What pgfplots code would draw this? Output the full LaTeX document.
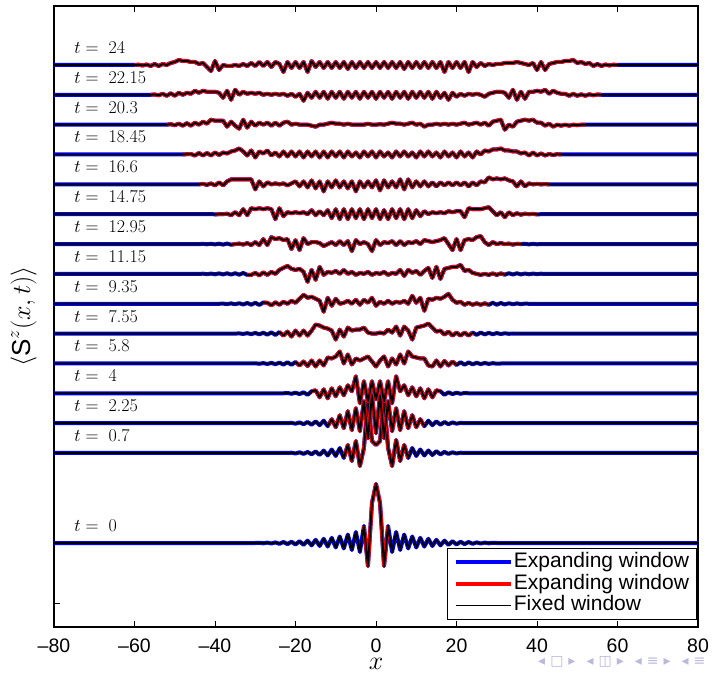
\RequirePackage{fix-cm}
\documentclass[border=0pt]{standalone}
\usepackage{fontspec}
\newfontfamily\hv{Liberation Sans}
\newfontfamily\dv{DejaVu Sans}
\usepackage{pgfplots}
\usepackage{pgfplotstable}
\pgfplotsset{compat=1.18}
\definecolor{navc}{RGB}{185,185,220}

\pgfplotstableread[row sep=\\]{x d\\ -80 0\\ -30 0\\ -29 0.2\\ -28 -0.3\\ -27 0.4\\ -26 -0.5\\ -25 0.6\\ -24 -0.8\\ -23 1\\ -22 -1.1\\ -21 1.3\\ -20 -1.5\\ -19 1.8\\ -18 -1.9\\ -17 2.4\\ -16 -2.4\\ -15 3.2\\ -14 -3\\ -13 4.2\\ -12 -3.6\\ -11 5.2\\ -10 -4.5\\ -9 6.5\\ -8 -5.5\\ -7 8.5\\ -6 -7\\ -5 11\\ -4 -9\\ -3 17\\ -2 -23\\ -1 40\\ 0 59\\ 1 40\\ 2 -23\\ 3 17\\ 4 -9\\ 5 11\\ 6 -7\\ 7 8.5\\ 8 -5.5\\ 9 6.5\\ 10 -4.5\\ 11 5.2\\ 12 -3.6\\ 13 4.2\\ 14 -3\\ 15 3.2\\ 16 -2.4\\ 17 2.4\\ 18 -1.9\\ 19 1.8\\ 20 -1.5\\ 21 1.3\\ 22 -1.1\\ 23 1\\ 24 -0.8\\ 25 0.6\\ 26 -0.5\\ 27 0.4\\ 28 -0.3\\ 29 0.2\\ 30 0\\ 80 0\\}\tZ

\pgfplotstableread[row sep=\\]{x d\\ -80 0\\ -22 0\\ -21 0.3\\ -20 -0.5\\ -19 0.7\\ -18 -0.9\\ -17 1\\ -16 -1.3\\ -15 1.6\\ -14 -2\\ -13 2.4\\ -12 -2.5\\ -11 3.5\\ -10 -3\\ -9 5\\ -8 -5\\ -7 8\\ -6 -8\\ -5 12\\ -4 -13\\ -3 5\\ -2 55\\ -1 12\\ 0 8\\ 1 12\\ 2 55\\ 3 5\\ 4 -13\\ 5 13\\ 6 -8\\ 7 8\\ 8 -5\\ 9 5\\ 10 -3\\ 11 3.5\\ 12 -2.5\\ 13 2.5\\ 14 -2\\ 15 1.8\\ 16 -1.4\\ 17 1.1\\ 18 -0.9\\ 19 0.7\\ 20 -0.5\\ 21 0.3\\ 22 0\\ 80 0\\}\tA

\pgfplotstableread[row sep=\\]{x d\\ -80 0\\ -22 0\\ -21 0.3\\ -20 -0.5\\ -19 0.8\\ -18 -1\\ -17 1.2\\ -16 -1.5\\ -15 1.8\\ -14 -2\\ -13 2.5\\ -12 -3\\ -11 4\\ -10 -4\\ -9 8\\ -8 -5\\ -7 12\\ -6 -7\\ -5 15\\ -4 -8\\ -3 22\\ -2 -15\\ -1 28\\ 0 -10\\ 1 28\\ 2 -15\\ 3 22\\ 4 -8\\ 5 15\\ 6 -7\\ 7 12\\ 8 -5\\ 9 8\\ 10 -4\\ 11 4\\ 12 -3\\ 13 2.5\\ 14 -2\\ 15 1.8\\ 16 -1.5\\ 17 1.2\\ 18 -1\\ 19 0.8\\ 20 -0.5\\ 21 0.3\\ 22 0\\ 80 0\\}\tB

\pgfplotstableread[row sep=\\]{x d\\ -80 0\\ -23 0\\ -22 0.3\\ -21 -0.5\\ -20 0.6\\ -19 -0.8\\ -18 1\\ -17 -1.5\\ -16 2\\ -15 3\\ -14 -4\\ -13 4\\ -12 -5\\ -11 5\\ -10 -3\\ -9 6\\ -8 -2\\ -7 8\\ -6 2\\ -5 17\\ -4 -10\\ -3 12\\ -2 -8\\ -1 12\\ 0 -6\\ 1 12\\ 2 -8\\ 3 12\\ 4 -10\\ 5 17\\ 6 2\\ 7 8\\ 8 -2\\ 9 6\\ 10 -3\\ 11 5\\ 12 -5\\ 13 4\\ 14 -4\\ 15 3\\ 16 2\\ 17 -1.5\\ 18 1\\ 19 -0.8\\ 20 0.6\\ 21 -0.5\\ 22 0.3\\ 23 0\\ 80 0\\}\tC

\pgfplotstableread[row sep=\\]{x d\\ -80 0\\ -31 0\\ -30 0.2\\ -29 -0.3\\ -28 0.4\\ -27 -0.5\\ -26 0.6\\ -25 -0.7\\ -24 0.8\\ -23 -1\\ -22 1.2\\ -21 -1.3\\ -20 1.5\\ -19 -2\\ -18 2\\ -17 -2.5\\ -16 3\\ -15 -3\\ -14 3\\ -13 -2\\ -12 6\\ -11 5\\ -10 7\\ -9 12\\ -8 0\\ -7 9\\ -6 -1\\ -5 5\\ -4 3\\ -3 5\\ -2 7\\ -1 2\\ 0 -3\\ 1 3\\ 2 7\\ 3 -3\\ 4 5\\ 5 -1\\ 6 9\\ 7 0\\ 8 12\\ 9 7\\ 10 6\\ 11 5\\ 12 5\\ 13 -2\\ 14 -3\\ 15 3\\ 16 -3\\ 17 2.5\\ 18 -2\\ 19 2\\ 20 -1.5\\ 21 1.3\\ 22 -1.2\\ 23 1\\ 24 -0.8\\ 25 0.7\\ 26 -0.6\\ 27 0.5\\ 28 -0.4\\ 29 0.3\\ 30 -0.2\\ 31 0\\ 80 0\\}\tD

\pgfplotstableread[row sep=\\]{x d\\ -80 0\\ -35 0\\ -34 0.2\\ -33 -0.3\\ -32 0.4\\ -31 -0.5\\ -30 0.6\\ -29 -0.7\\ -28 0.8\\ -27 -1\\ -26 1.2\\ -25 -1.3\\ -24 1.5\\ -23 -2\\ -22 2\\ -21 -3\\ -20 3\\ -19 -2\\ -18 3\\ -17 -2\\ -16 3\\ -15 9\\ -14 8\\ -13 6\\ -12 5\\ -11 3\\ -10 -6\\ -9 4\\ -8 -3\\ -7 6\\ -6 3\\ -5 4\\ -4 4\\ -3 6\\ -2 1\\ -1 0\\ 0 0\\ 1 1\\ 2 0\\ 3 4\\ 4 1\\ 5 7\\ 6 -2\\ 7 7\\ 8 3\\ 9 -6\\ 10 6\\ 11 7\\ 12 8\\ 13 10\\ 14 6\\ 15 2\\ 16 3\\ 17 -1\\ 18 2\\ 19 -2\\ 20 1\\ 21 -2\\ 22 1\\ 23 -2\\ 24 1\\ 25 -1.2\\ 26 1\\ 27 -0.8\\ 28 0.7\\ 29 -0.6\\ 30 0.5\\ 31 -0.4\\ 32 0.3\\ 33 -0.2\\ 34 0.1\\ 35 0\\ 80 0\\}\tE

\pgfplotstableread[row sep=\\]{x d\\ -80 0\\ -39 0\\ -38 0.2\\ -37 -0.3\\ -36 0.4\\ -35 -0.5\\ -34 0.6\\ -33 -0.7\\ -32 0.8\\ -31 -0.9\\ -30 1\\ -29 -1.2\\ -28 1.3\\ -27 1\\ -26 -1.5\\ -25 1.5\\ -24 -1\\ -23 2\\ -22 0\\ -21 3\\ -20 1\\ -19 5\\ -18 9\\ -17 6\\ -16 7\\ -15 5\\ -14 3\\ -13 -8\\ -12 6\\ -11 -2\\ -10 5\\ -9 0\\ -8 1\\ -7 3\\ -6 0\\ -5 4\\ -4 -1\\ -3 4\\ -2 1\\ -1 6\\ 0 -2\\ 1 2\\ 2 0\\ 3 3\\ 4 0\\ 5 2\\ 6 1\\ 7 3\\ 8 0\\ 9 8\\ 10 1\\ 11 6\\ 12 -7\\ 13 5\\ 14 4\\ 15 6\\ 16 5\\ 17 7\\ 18 10\\ 19 4\\ 20 1\\ 21 2\\ 22 -1\\ 23 1\\ 24 -1\\ 25 0.5\\ 26 -1\\ 27 0.5\\ 28 -1\\ 29 1\\ 30 -0.9\\ 31 0.8\\ 32 -0.7\\ 33 0.6\\ 34 -0.5\\ 35 0.4\\ 36 -0.3\\ 37 0.2\\ 38 0\\ 80 0\\}\tF

\pgfplotstableread[row sep=\\]{x d\\ -80 0\\ -44 0\\ -43 0.2\\ -42 -0.3\\ -41 0.3\\ -40 -0.4\\ -39 0.5\\ -38 -0.5\\ -37 0.6\\ -36 -0.7\\ -35 0.7\\ -34 -0.8\\ -33 0.9\\ -32 -1\\ -31 -1\\ -30 1\\ -29 -1.5\\ -28 1.5\\ -27 -1\\ -26 2\\ -25 0\\ -24 4\\ -23 6\\ -22 8\\ -21 5\\ -20 4\\ -19 5\\ -18 2\\ -17 -8\\ -16 4\\ -15 -6\\ -14 7\\ -13 -1\\ -12 2\\ -11 1\\ -10 3\\ -9 0\\ -8 4\\ -7 0\\ -6 2\\ -5 -1\\ -4 1\\ -3 0\\ -2 2\\ -1 -1\\ 0 1\\ 1 0\\ 2 2\\ 3 -1\\ 4 1\\ 5 0\\ 6 4\\ 7 -2\\ 8 4\\ 9 1\\ 10 3\\ 11 -1\\ 12 3\\ 13 6\\ 14 -4\\ 15 7\\ 16 -5\\ 17 5\\ 18 6\\ 19 7\\ 20 7\\ 21 9\\ 22 3\\ 23 4\\ 24 1\\ 25 0\\ 26 -1\\ 27 0\\ 28 -1\\ 29 0.5\\ 30 -1\\ 31 0.5\\ 32 -0.8\\ 33 0.7\\ 34 -0.6\\ 35 0.6\\ 36 -0.5\\ 37 0.4\\ 38 -0.4\\ 39 0.3\\ 40 -0.2\\ 41 0.2\\ 42 -0.1\\ 43 0\\ 80 0\\}\tG

\pgfplotstableread[row sep=\\]{x d\\ -80 0\\ -44 0\\ -43 0.2\\ -42 -0.2\\ -41 0.3\\ -40 -0.3\\ -39 0.4\\ -38 -0.5\\ -37 0.5\\ -36 -0.6\\ -35 0\\ -34 0.5\\ -33 -0.5\\ -32 1\\ -31 -1\\ -30 2\\ -29 -1\\ -28 5\\ -27 -1\\ -26 7\\ -25 5\\ -24 6\\ -23 4\\ -22 5\\ -21 -5\\ -20 4\\ -19 -6\\ -18 6\\ -17 0\\ -16 2\\ -15 2\\ -14 1\\ -13 -2\\ -12 0\\ -11 2\\ -10 -1\\ -9 3\\ -8 -1\\ -7 3\\ -6 -7\\ -5 4\\ -4 0\\ -3 2\\ -2 0\\ -1 -7\\ 0 4\\ 1 -1\\ 2 2\\ 3 1\\ 4 3\\ 5 -1\\ 6 3\\ 7 -1\\ 8 2\\ 9 1\\ 10 3\\ 11 0\\ 12 4\\ 13 3\\ 14 2\\ 15 3\\ 16 4\\ 17 6\\ 18 0\\ 19 -6\\ 20 5\\ 21 -6\\ 22 4\\ 23 5\\ 24 4\\ 25 7\\ 26 8\\ 27 2\\ 28 -1\\ 29 2\\ 30 0\\ 31 1\\ 32 0\\ 33 0.5\\ 34 -0.5\\ 35 0.3\\ 36 0\\ 37 0.3\\ 38 -0.3\\ 39 0.2\\ 40 -0.2\\ 41 0\\ 80 0\\}\tH

\pgfplotstableread[row sep=\\]{x d\\ -80 0\\ -42 0\\ -41 0.2\\ -40 -0.2\\ -39 0\\ -38 0\\ -37 0.5\\ -36 -1\\ -35 2\\ -34 -1\\ -33 5\\ -32 -1\\ -31 6\\ -30 5\\ -29 6\\ -28 5\\ -27 6\\ -26 5\\ -25 -5\\ -24 6\\ -23 -2\\ -22 2\\ -21 1\\ -20 2\\ -19 1\\ -18 2\\ -17 0\\ -16 4\\ -15 -1\\ -14 3\\ -13 -1\\ -12 4\\ -11 -4\\ -10 5\\ -9 -5\\ -8 5\\ -7 -5\\ -6 5\\ -5 -4\\ -4 5\\ -3 -5\\ -2 5\\ -1 -4\\ 0 5\\ 1 -5\\ 2 4\\ 3 -5\\ 4 5\\ 5 -4\\ 6 5\\ 7 -5\\ 8 5\\ 9 -4\\ 10 4\\ 11 -2\\ 12 3\\ 13 0\\ 14 2\\ 15 1\\ 16 2\\ 17 1\\ 18 3\\ 19 2\\ 20 3\\ 21 3\\ 22 -3\\ 23 6\\ 24 5\\ 25 5\\ 26 5\\ 27 6\\ 28 7\\ 29 3\\ 30 -1\\ 31 2\\ 32 -3\\ 33 2\\ 34 -1\\ 35 1\\ 36 -0.5\\ 37 0.5\\ 38 0\\ 39 0.3\\ 40 -0.2\\ 41 0\\ 80 0\\}\tI

\pgfplotstableread[row sep=\\]{x d\\ -80 0\\ -44 0\\ -43 0.5\\ -42 -0.5\\ -41 1\\ -40 -1\\ -39 2\\ -38 -1\\ -37 3\\ -36 5\\ -35 5\\ -34 5\\ -33 5\\ -32 5\\ -31 5\\ -30 -5\\ -29 3\\ -28 -2\\ -27 2\\ -26 0\\ -25 1\\ -24 0\\ -23 1\\ -22 -1\\ -21 1\\ -20 3\\ -19 -2\\ -18 3\\ -17 -3\\ -16 4\\ -15 -4\\ -14 3\\ -13 -7\\ -12 3\\ -11 -3\\ -10 4\\ -9 -3\\ -8 3\\ -7 -4\\ -6 3\\ -5 -7\\ -4 3\\ -3 -3\\ -2 3\\ -1 -3\\ 0 4\\ 1 -6\\ 2 4\\ 3 -3\\ 4 3\\ 5 -3\\ 6 5\\ 7 -5\\ 8 5\\ 9 -3\\ 10 3\\ 11 -2\\ 12 3\\ 13 -2\\ 14 2\\ 15 -2\\ 16 2\\ 17 -1\\ 18 2\\ 19 -1\\ 20 2\\ 21 -1\\ 22 2\\ 23 -2\\ 24 2\\ 25 -1\\ 26 3\\ 27 2\\ 28 7\\ 29 5\\ 30 6\\ 31 5\\ 32 6\\ 33 4\\ 34 3\\ 35 -2\\ 36 3\\ 37 -2\\ 38 1\\ 39 0\\ 40 0.5\\ 41 0\\ 42 0.3\\ 43 0\\ 80 0\\}\tJ

\pgfplotstableread[row sep=\\]{x d\\ -80 0\\ -48 0\\ -47 0.3\\ -46 0.5\\ -45 -1\\ -44 1.5\\ -43 -1\\ -42 1.5\\ -41 -1\\ -40 2\\ -39 -0.5\\ -38 2\\ -37 1\\ -36 3\\ -35 4\\ -34 6\\ -33 3\\ -32 -1\\ -31 4\\ -30 -3\\ -29 3\\ -28 1\\ -27 4\\ -26 -1\\ -25 2\\ -24 -2\\ -23 3\\ -22 -2\\ -21 3\\ -20 -2\\ -19 3\\ -18 -3\\ -17 3\\ -16 -2\\ -15 3\\ -14 -3\\ -13 3\\ -12 -3\\ -11 3\\ -10 -2\\ -9 3\\ -8 -3\\ -7 3\\ -6 -2\\ -5 2\\ -4 -3\\ -3 3\\ -2 -2\\ -1 3\\ 0 -3\\ 1 3\\ 2 -2\\ 3 2\\ 4 -3\\ 5 3\\ 6 -2\\ 7 3\\ 8 -2\\ 9 2\\ 10 -3\\ 11 3\\ 12 -2\\ 13 3\\ 14 -2\\ 15 2\\ 16 -3\\ 17 3\\ 18 -2\\ 19 2\\ 20 -3\\ 21 3\\ 22 -2\\ 23 2\\ 24 -3\\ 25 3\\ 26 0\\ 27 4\\ 28 3\\ 29 5\\ 30 5\\ 31 6\\ 32 4\\ 33 4\\ 34 3\\ 35 3\\ 36 1\\ 37 2\\ 38 -1\\ 39 2\\ 40 -1\\ 41 1\\ 42 -1\\ 43 0.5\\ 44 -0.5\\ 45 0.3\\ 46 0\\ 80 0\\}\tK

\pgfplotstableread[row sep=\\]{x d\\ -80 0\\ -52 0\\ -51 0.5\\ -50 -0.5\\ -49 1\\ -48 -1\\ -47 1.5\\ -46 -1\\ -45 2\\ -44 0\\ -43 3\\ -42 1\\ -41 5\\ -40 4\\ -39 4\\ -38 4\\ -37 -2\\ -36 3\\ -35 -1\\ -34 -4\\ -33 5\\ -32 -3\\ -31 3\\ -30 -1\\ -29 2\\ -28 0\\ -27 2\\ -26 -1\\ -25 2\\ -24 -1\\ -23 2\\ -22 3\\ -21 0\\ -20 1\\ -19 0\\ -18 0\\ -17 0\\ -16 -1\\ -15 -2\\ -14 0\\ -13 0\\ -12 1\\ -11 2\\ -10 1\\ -9 1\\ -8 0\\ -7 1\\ -6 0\\ -5 0\\ -4 0\\ -3 0\\ -2 1\\ -1 0\\ 0 0\\ 1 0.5\\ 2 0\\ 3 1\\ 4 2\\ 5 1\\ 6 1\\ 7 0\\ 8 1\\ 9 2\\ 10 0\\ 11 1\\ 12 -2\\ 13 0\\ 14 0\\ 15 1\\ 16 0\\ 17 1\\ 18 0\\ 19 1\\ 20 0\\ 21 1\\ 22 2\\ 23 0\\ 24 1\\ 25 2\\ 26 0\\ 27 2\\ 28 -1\\ 29 3\\ 30 4\\ 31 5\\ 32 -5\\ 33 0\\ 34 -2\\ 35 3\\ 36 4\\ 37 5\\ 38 4\\ 39 5\\ 40 2\\ 41 2\\ 42 -1\\ 43 1\\ 44 -2\\ 45 0\\ 46 -1\\ 47 0\\ 48 -1\\ 49 0\\ 50 -0.5\\ 51 0\\ 52 0\\ 80 0\\}\tL

\pgfplotstableread[row sep=\\]{x d\\ -80 0\\ -56 0\\ -55 0.3\\ -54 -0.5\\ -53 1\\ -52 -1\\ -51 1.5\\ -50 -1\\ -49 2\\ -48 0\\ -47 2\\ -46 1\\ -45 4\\ -44 2\\ -43 4\\ -42 3\\ -41 3\\ -40 3\\ -39 2\\ -38 -3\\ -37 4\\ -36 -5\\ -35 5\\ -34 0\\ -33 3\\ -32 1\\ -31 2\\ -30 1\\ -29 2\\ -28 0\\ -27 1\\ -26 0\\ -25 1\\ -24 0\\ -23 1\\ -22 -1\\ -21 1\\ -20 -2\\ -19 1\\ -18 -6\\ -17 2\\ -16 -3\\ -15 3\\ -14 -3\\ -13 3\\ -12 -4\\ -11 3\\ -10 -3\\ -9 3\\ -8 -4\\ -7 3\\ -6 -3\\ -5 3\\ -4 -4\\ -3 3\\ -2 -3\\ -1 3\\ 0 -4\\ 1 3\\ 2 -3\\ 3 3\\ 4 -4\\ 5 3\\ 6 -3\\ 7 3\\ 8 -4\\ 9 3\\ 10 -3\\ 11 3\\ 12 -3\\ 13 3\\ 14 -4\\ 15 3\\ 16 -3\\ 17 2\\ 18 -5\\ 19 2\\ 20 -2\\ 21 1\\ 22 -1\\ 23 1\\ 24 0\\ 25 1\\ 26 0\\ 27 -2\\ 28 1\\ 29 2\\ 30 3\\ 31 3\\ 32 2\\ 33 -3\\ 34 5\\ 35 -5\\ 36 3\\ 37 -4\\ 38 3\\ 39 3\\ 40 4\\ 41 3\\ 42 5\\ 43 1\\ 44 4\\ 45 2\\ 46 1\\ 47 1\\ 48 -1\\ 49 1\\ 50 -1\\ 51 0.5\\ 52 -1\\ 53 0.5\\ 54 -0.5\\ 55 0.3\\ 56 0\\ 80 0\\}\tM

\pgfplotstableread[row sep=\\]{x d\\ -80 0\\ -60 0\\ -59 0.3\\ -58 -0.5\\ -57 0.5\\ -56 -1\\ -55 1\\ -54 -1\\ -53 1\\ -52 0\\ -51 2\\ -50 3\\ -49 5\\ -48 4\\ -47 4\\ -46 3\\ -45 3\\ -44 1\\ -43 2\\ -42 -2\\ -41 -6\\ -40 4\\ -39 -5\\ -38 0\\ -37 -1\\ -36 -1\\ -35 0\\ -34 -1\\ -33 1\\ -32 -1\\ -31 2\\ -30 -1\\ -29 3\\ -28 -1\\ -27 3\\ -26 -2\\ -25 3\\ -24 1\\ -23 -7\\ -22 3\\ -21 -3\\ -20 3\\ -19 -3\\ -18 3\\ -17 -7\\ -16 4\\ -15 -2\\ -14 3\\ -13 -3\\ -12 3\\ -11 -3\\ -10 3\\ -9 -3\\ -8 3\\ -7 -4\\ -6 3\\ -5 -3\\ -4 3\\ -3 -3\\ -2 3\\ -1 -3\\ 0 3\\ 1 -3\\ 2 3\\ 3 -3\\ 4 3\\ 5 -3\\ 6 3\\ 7 -4\\ 8 3\\ 9 -3\\ 10 3\\ 11 -3\\ 12 3\\ 13 -3\\ 14 3\\ 15 -3\\ 16 3\\ 17 -7\\ 18 3\\ 19 -3\\ 20 3\\ 21 -3\\ 22 3\\ 23 -7\\ 24 3\\ 25 -2\\ 26 2\\ 27 -1\\ 28 1\\ 29 0\\ 30 1\\ 31 1\\ 32 2\\ 33 2\\ 34 2\\ 35 3\\ 36 2\\ 37 1\\ 38 0\\ 39 2\\ 40 -5\\ 41 3\\ 42 -5\\ 43 1\\ 44 2\\ 45 3\\ 46 3\\ 47 4\\ 48 4\\ 49 5\\ 50 2\\ 51 3\\ 52 1\\ 53 2\\ 54 -1\\ 55 1\\ 56 -1\\ 57 0.5\\ 58 -0.5\\ 59 0.3\\ 60 0\\ 80 0\\}\tN

\newcommand{\wrow}[3]{%
  \addplot[blue, line width=4pt, line join=round, forget plot] table[y expr=\thisrow{d}+#2] {#1};
  \addplot[red, line width=3.8pt, line join=round, forget plot, restrict x to domain=-#3:#3] table[y expr=\thisrow{d}+#2] {#1};
  \addplot[black, line width=1.9pt, line join=round, forget plot] table[y expr=\thisrow{d}+#2] {#1};
}
\newcommand{\tlab}[2]{\node[anchor=base west, inner sep=0pt, font=\fontsize{18}{18}\selectfont] at (axis cs:-75,#2) {$t=$\hspace{0.55em}#1};}

\begin{document}
\begin{tikzpicture}
\begin{axis}[
  name=ax, at={(0,0)}, anchor=south west,
  scale only axis, width=644pt, height=621pt,
  xmin=-80, xmax=80, ymin=0, ymax=621,
  xtick={-80,-60,-40,-20,0,20,40,60,80},
  xticklabels={–80,–60,–40,–20,0,20,40,60,80},
  ytick={24,174,323.2,472.5}, yticklabels={},
  tick align=inside, major tick length=6pt,
  every tick/.style={black, line width=1pt},
  axis line style={line width=1.2pt},
  xticklabel style={font=\hv\fontsize{19.5}{20}\selectfont, inner sep=1pt, yshift=-10.5pt},
  xlabel={$x$},
  xlabel style={font=\fontsize{26}{26}\selectfont, inner sep=1pt, at={(axis description cs:0.5,0)}, anchor=center, yshift=-37pt},
  ylabel={$\bigl\langle \mbox{\hv S}^z(x,t)\bigr\rangle$},
  ylabel style={font=\fontsize{26}{26}\selectfont, at={(axis description cs:-0.047,0.5)}, anchor=center},
  clip=false,
  legend cell align=left,
  legend image code/.code={\draw[#1] (0pt,0pt) -- (55pt,0pt);},
  legend style={at={(rel axis cs:0.998,0.011)}, anchor=south east, draw=black, line width=1pt,
    font=\hv\fontsize{21}{22}\selectfont, inner xsep=6pt, inner ysep=3pt, row sep=0pt,
    nodes={inner sep=1.2pt, text height=14.8pt, text depth=4.6pt}},
]
\wrow{\tZ}{84}{3.5}
\wrow{\tA}{174}{8}
\wrow{\tB}{203.8}{12}
\wrow{\tC}{233.7}{16}
\wrow{\tD}{263.5}{20}
\wrow{\tE}{293.4}{24}
\wrow{\tF}{323.2}{28}
\wrow{\tG}{353.1}{32}
\wrow{\tH}{382.9}{36}
\wrow{\tI}{412.8}{40}
\wrow{\tJ}{442.6}{44}
\wrow{\tK}{472.5}{48}
\wrow{\tL}{502.3}{52}
\wrow{\tM}{532.2}{56}
\wrow{\tN}{562}{60}
\tlab{24}{573.5}
\tlab{22.15}{543.7}
\tlab{20.3}{513.8}
\tlab{18.45}{484}
\tlab{16.6}{454.1}
\tlab{14.75}{424.3}
\tlab{12.95}{394.4}
\tlab{11.15}{364.6}
\tlab{9.35}{334.7}
\tlab{7.55}{304.9}
\tlab{5.8}{275}
\tlab{4}{245.2}
\tlab{2.25}{215.3}
\tlab{0.7}{185.5}
\tlab{0}{95.5}
\addlegendimage{blue, line width=4pt}
\addlegendentry{Expanding window}
\addlegendimage{red, line width=3.8pt}
\addlegendentry{Expanding window}
\addlegendimage{black, line width=1.2pt}
\addlegendentry{Fixed window}
\node[font=\dv\fontsize{14}{14}\selectfont, text=navc, anchor=east] at (axis cs:82.7,-35) {◂\hspace{5pt}□\hspace{5pt}▸\hspace{11pt}◂\hspace{5pt}◫\hspace{5pt}▸\hspace{11pt}◂\hspace{5pt}≡\hspace{5pt}▸\hspace{11pt}◂\hspace{5pt}≡};
\end{axis}
\pgfresetboundingbox
\path[use as bounding box] ([shift={(-54pt,-49pt)}]ax.south west) rectangle ([shift={(15pt,6pt)}]ax.north east);
\end{tikzpicture}
\end{document}
